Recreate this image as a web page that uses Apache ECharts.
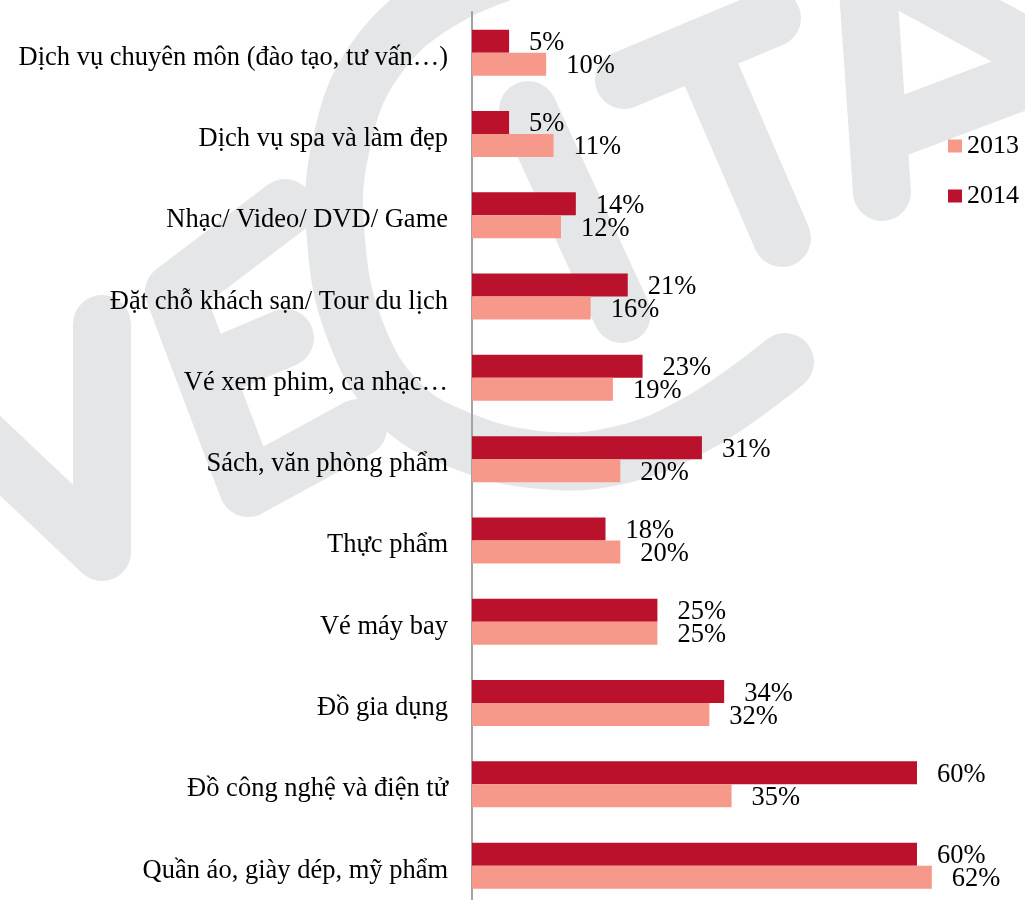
<!DOCTYPE html>
<html>
<head>
<meta charset="utf-8">
<style>
  html, body { margin: 0; padding: 0; background: #ffffff; overflow: hidden; }
  #chart { width: 1025px; height: 912px; }
</style>
<script src="https://cdn.jsdelivr.net/npm/echarts@6/dist/echarts.min.js"></script>
</head>
<body>
<div id="chart"></div>
<script>
// Product groups, listed top to bottom
const categories = [
  'Dịch vụ chuyên môn (đào tạo, tư vấn…)',
  'Dịch vụ spa và làm đẹp',
  'Nhạc/ Video/ DVD/ Game',
  'Đặt chỗ khách sạn/ Tour du lịch',
  'Vé xem phim, ca nhạc…',
  'Sách, văn phòng phẩm',
  'Thực phẩm',
  'Vé máy bay',
  'Đồ gia dụng',
  'Đồ công nghệ và điện tử',
  'Quần áo, giày dép, mỹ phẩm'
];
// Share of buyers (%)
const values2013 = [10, 11, 12, 16, 19, 20, 20, 25, 32, 35, 62];
const values2014 = [5, 5, 14, 21, 23, 31, 18, 25, 34, 60, 60];
const seriesNames = ['2013', '2014'];

const COLOR_2013 = '#f6998a';
const COLOR_2014 = '#ba112d';
const SERIF = '"Liberation Serif", "Times New Roman", serif';

// Faint VECITA logo strokes painted behind the plot
const LOGO = '#e5e6e8';
const logoStrokes = [
  { pts: [[-40, 418], [102, 552], [102, 324]], smooth: 0 },           // V
  { pts: [[285, 208], [174, 292], [248, 488], [358, 428]], smooth: 0 }, // E outline
  { pts: [[205, 372], [285, 338]], smooth: 0 },                       // E middle arm
  { pts: [[560, -45], [450, -5], [375, 60], [340, 150], [336, 240], [355, 330], [398, 402], [460, 440], [540, 460], [620, 455], [700, 422], [785, 362]], smooth: 0.4 }, // C
  { pts: [[528, 110], [622, 314]], smooth: 0 },                       // I
  { pts: [[624, 80], [772, 18]], smooth: 0 },                         // T bar
  { pts: [[700, 48], [782, 238]], smooth: 0 },                        // T stem
  { pts: [[882, 192], [866, -40], [1090, 82]], smooth: 0 },           // A legs
  { pts: [[892, 130], [1040, 74]], smooth: 0 }                        // A bar
];

const chart = echarts.init(document.getElementById('chart'), null, { renderer: 'canvas' });

const labelStyle = {
  show: true,
  position: 'right',
  distance: 20,
  offset: [0, 2],
  formatter: p => p.value + '%',
  fontFamily: SERIF,
  fontSize: 26.5,
  color: '#000'
};

chart.setOption({
  backgroundColor: '#ffffff',
  animation: false,
  graphic: {
    elements: logoStrokes.map(s => ({
      type: 'polyline',
      silent: true,
      z: -10,
      shape: { points: s.pts, smooth: s.smooth },
      style: { stroke: LOGO, fill: null, lineWidth: 58, lineCap: 'round', lineJoin: 'round' }
    }))
  },
  legend: {
    data: seriesNames,
    orient: 'vertical',
    left: 948,
    top: 133,
    padding: 0,
    itemWidth: 14,
    itemHeight: 13,
    itemGap: 24,
    icon: 'rect',
    textStyle: { fontFamily: SERIF, fontSize: 26, color: '#000' }
  },
  grid: { left: 472, top: 12, width: 534, height: 894.3, containLabel: false },
  xAxis: {
    type: 'value',
    min: 0,
    max: 72,
    show: false
  },
  yAxis: {
    type: 'category',
    data: categories,
    inverse: true,
    axisLine: { show: true, lineStyle: { color: '#a3a3a3', width: 2 } },
    axisTick: { show: false },
    axisLabel: {
      margin: 24,
      verticalAlign: 'top',
      lineHeight: 10,
      fontFamily: SERIF,
      fontSize: 26.5,
      color: '#000'
    },
    splitLine: { show: false }
  },
  series: [
    {
      name: '2014',
      type: 'bar',
      data: values2014,
      barWidth: 23,
      barGap: '0%',
      itemStyle: { color: COLOR_2014 },
      label: labelStyle
    },
    {
      name: '2013',
      type: 'bar',
      data: values2013,
      barWidth: 23,
      barGap: '0%',
      itemStyle: { color: COLOR_2013 },
      label: labelStyle
    }
  ]
});
</script>
</body>
</html>
